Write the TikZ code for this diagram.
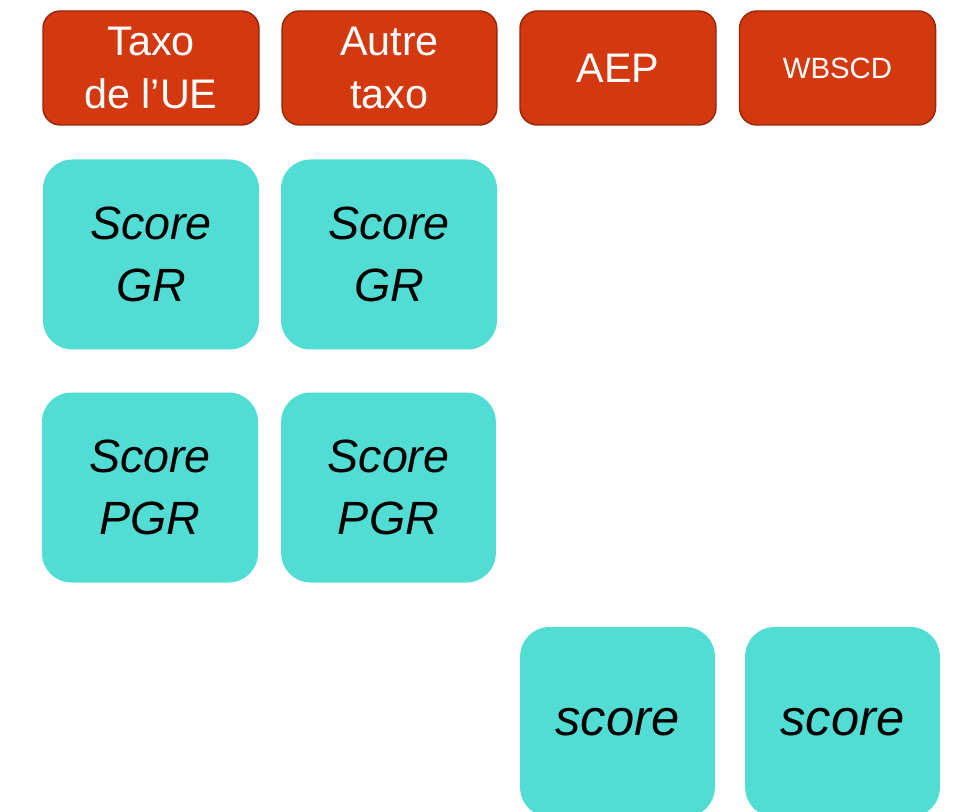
\documentclass[tikz,border=0pt]{standalone}
\usepackage{fontspec}
\setmainfont{Liberation Sans}
\definecolor{redfill}{RGB}{211,56,14}
\definecolor{redline}{RGB}{150,40,12}
\definecolor{tealfill}{RGB}{82,221,212}
\begin{document}
\begin{tikzpicture}[x=0.75pt,y=-0.75pt,
  redbox/.style={draw=redline, line width=1.1pt, fill=redfill, rounded corners=13pt,
    text=white, align=center, inner sep=0pt, minimum height=85.5pt,
    font=\fontsize{31}{40}\selectfont},
  tealbox/.style={fill=tealfill, rounded corners=22pt, align=center, inner sep=0pt,
    minimum height=142.5pt, font=\fontsize{35}{46}\selectfont\itshape}]
\useasboundingbox (0,0) rectangle (955,812);
% top row
\node[redbox, minimum width=162pt] (taxoue) at (151,68) {Taxo\\de l’UE};
\node[redbox, minimum width=161pt] (autre) at (389.5,68) {Autre\\taxo};
\node[redbox, minimum width=147pt] (aep) at (618,68) {AEP};
\node[redbox, minimum width=147pt, font=\fontsize{22}{26}\selectfont] (wbscd) at (837.5,68) {WBSCD};
% GR row
\node[tealbox, minimum width=162pt] (gr1) at (151,254.5) {Score\\GR};
\node[tealbox, minimum width=162pt] (gr2) at (389,254.5) {Score\\GR};
% PGR row
\node[tealbox, minimum width=162pt] (pgr1) at (150,487.5) {Score\\PGR};
\node[tealbox, minimum width=161pt] (pgr2) at (388.5,487.5) {Score\\PGR};
% bottom row
\node[tealbox, minimum width=146pt, font=\fontsize{38}{46}\selectfont\itshape] (s1) at (617.5,722) {score};
\node[tealbox, minimum width=146pt, font=\fontsize{38}{46}\selectfont\itshape] (s2) at (842.5,722) {score};
\end{tikzpicture}
\end{document}
